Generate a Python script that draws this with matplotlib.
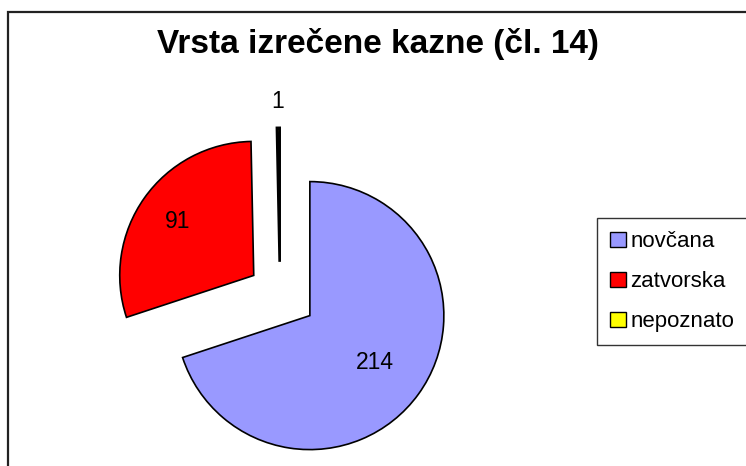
import matplotlib
matplotlib.use("Agg")
import matplotlib.pyplot as plt
from matplotlib.patches import Patch, Rectangle
import numpy as np

categories = ["novčana", "zatvorska", "nepoznato"]
values = [214, 91, 1]
colors = ["#9999FF", "#FF0000", "#FFFF00"]
explode = [0.275, 0.24, 0.24]
label_dist = [0.6, 0.7, 1.2]
title = "Vrsta izrečene kazne (čl. 14)"

plt.rcParams['font.family'] = ['Liberation Sans', 'DejaVu Sans']

W, H = 746, 466
fig = plt.figure(figsize=(W / 100, H / 100), dpi=100)
ax = fig.add_axes([0, 0, 1, 1])

R = 134
cx, cy = 280, H - 294
wedges, _ = ax.pie(values, colors=colors, explode=[e * R for e in explode],
                   startangle=90, counterclock=False, radius=R, center=(cx, cy),
                   wedgeprops=dict(edgecolor="black", linewidth=1.2))
wedges[2].set_linewidth(1.9)
for w, v, d in zip(wedges, values, label_dist):
    mid = np.deg2rad((w.theta1 + w.theta2) / 2)
    x0, y0 = w.center
    ax.text(x0 + d * R * np.cos(mid), y0 + d * R * np.sin(mid), str(v),
            ha="center", va="center", fontsize=16.5, color="black")

ax.set_xlim(0, W)
ax.set_ylim(0, H)
ax.set_aspect("equal")
ax.axis("off")

# outer chart frame (cropped at right and bottom)
fig.patches.append(Rectangle((8 / W, -0.1), 1.2, (H - 11.5) / H + 0.1,
                             transform=fig.transFigure, fill=False,
                             edgecolor="#222222", linewidth=1.6))

fig.text(378 / W, 1 - 44 / H, title, ha="center", va="center",
         fontsize=24, fontweight="bold")

handles = [Patch(facecolor=c, edgecolor="black", linewidth=1.0) for c in colors]
leg = fig.legend(handles, categories, loc="upper left",
                 bbox_to_anchor=(597 / W, 1 - 218 / H), fontsize=16,
                 frameon=True, fancybox=False, handlelength=0.7,
                 handleheight=0.7, handletextpad=0.2, labelspacing=0.85,
                 borderpad=0.6, borderaxespad=0)
leg.get_frame().set_edgecolor("black")
leg.get_frame().set_linewidth(1.0)

fig.savefig("out.png", dpi=100)
